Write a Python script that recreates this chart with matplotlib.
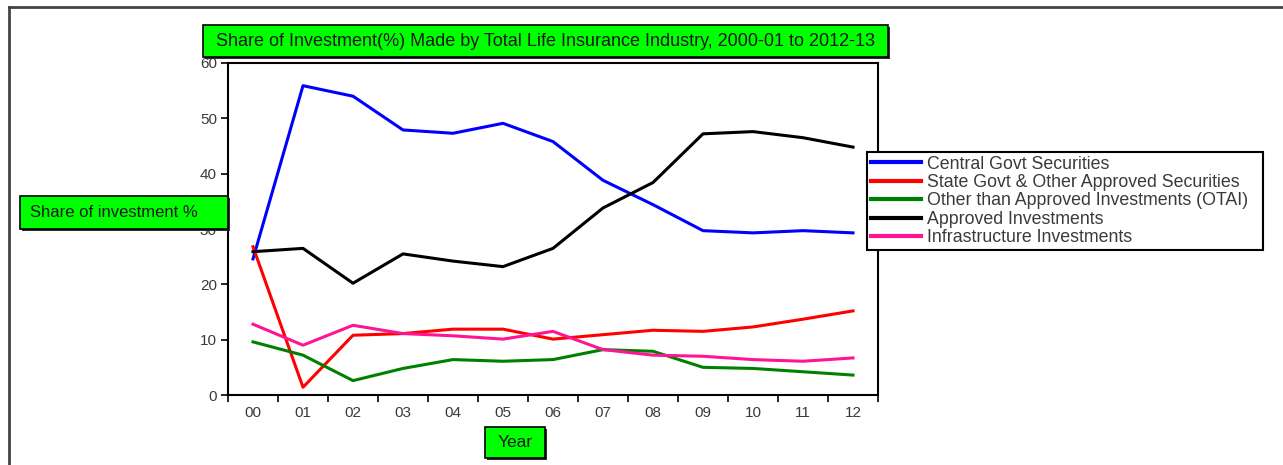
import matplotlib
matplotlib.use("Agg")
import matplotlib.pyplot as plt
from matplotlib.patches import Rectangle
from matplotlib.lines import Line2D

plt.rcParams['font.family'] = ['Liberation Sans', 'DejaVu Sans']

# Fiscal years 2000-01 ... 2012-13, labelled by the starting year
years = ["00", "01", "02", "03", "04", "05", "06", "07", "08", "09", "10", "11", "12"]

central_govt = [24.6, 55.9, 54.0, 47.9, 47.3, 49.1, 45.8, 38.8, 34.4, 29.7, 29.3, 29.7, 29.3]
state_govt = [26.8, 1.4, 10.8, 11.1, 11.9, 11.9, 10.1, 10.9, 11.7, 11.5, 12.3, 13.7, 15.2]
otai = [9.6, 7.2, 2.6, 4.8, 6.4, 6.1, 6.4, 8.2, 7.9, 5.0, 4.8, 4.2, 3.6]
approved = [25.9, 26.5, 20.2, 25.5, 24.2, 23.2, 26.5, 33.8, 38.4, 47.2, 47.6, 46.5, 44.8]
infrastructure = [12.8, 9.0, 12.6, 11.1, 10.7, 10.1, 11.5, 8.2, 7.2, 7.0, 6.4, 6.1, 6.7]

series_names = [
    "Central Govt Securities",
    "State Govt & Other Approved Securities",
    "Other than Approved Investments (OTAI)",
    "Approved Investments",
    "Infrastructure Investments",
]
series_values = [central_govt, state_govt, otai, approved, infrastructure]
series_colors = ["#0000ff", "#ff0000", "#008000", "#000000", "#ff1493"]

W, H = 1283, 465
fig = plt.figure(figsize=(W / 100, H / 100), dpi=100)


def fx(px):
    return px / W


def fy(py):
    return 1 - py / H


ax = fig.add_axes([fx(228), fy(395), fx(878) - fx(228), fy(63) - fy(395)])

x = list(range(len(years)))
handles = []
for name, vals, col in zip(series_names, series_values, series_colors):
    (ln,) = ax.plot(x, vals, color=col, lw=2.2, label=name, solid_joinstyle="round")
    handles.append(ln)

ax.set_xlim(-0.5, len(years) - 0.5)
ax.set_ylim(0, 60)
ax.set_yticks(range(0, 61, 10))
ax.set_xticks(x)
ax.set_xticklabels(years)
ax.set_xticks([i - 0.5 for i in range(len(years) + 1)], minor=True)
ax.tick_params(axis="x", which="major", length=0, pad=8, labelsize=11, labelcolor="#3a3a3a")
ax.tick_params(axis="x", which="minor", length=5, width=1.2, direction="out", color="black")
ax.tick_params(axis="y", which="major", length=5, width=1.2, direction="out", labelsize=11,
               labelcolor="#3a3a3a", pad=3)
for sp in ax.spines.values():
    sp.set_linewidth(1.5)
    sp.set_color("black")

# Outer frame (top and left edges)
fig.add_artist(Line2D([fx(9), 1], [fy(7), fy(7)], color="#444444", lw=2, transform=fig.transFigure))
fig.add_artist(Line2D([fx(9), fx(9)], [fy(7), 0], color="#444444", lw=2, transform=fig.transFigure))


def green_box(x0, y0, x1, y1):
    fig.add_artist(Rectangle((fx(x0) + 0.0015, fy(y1) - 0.004), fx(x1) - fx(x0), fy(y0) - fy(y1),
                             transform=fig.transFigure, facecolor="#303030", edgecolor="none",
                             zorder=4))
    fig.add_artist(Rectangle((fx(x0), fy(y1)), fx(x1) - fx(x0), fy(y0) - fy(y1),
                             transform=fig.transFigure, facecolor="#00ff00", edgecolor="black",
                             lw=1.2, zorder=5))


green_box(203, 25, 888, 57)
fig.text(fx(546), fy(41), "Share of Investment(%) Made by Total Life Insurance Industry, 2000-01 to 2012-13",
         ha="center", va="center", fontsize=13, color="#1a1a1a", zorder=6)

green_box(20, 196, 228, 229)
fig.text(fx(30), fy(212.5), "Share of investment %", ha="left", va="center", fontsize=12,
         color="#1a1a1a", zorder=6)

green_box(485, 427, 545, 458)
fig.text(fx(515), fy(442.5), "Year", ha="center", va="center", fontsize=12.5,
         color="#1a1a1a", zorder=6)

# Legend box spanning x = 867..1263 px
leg = fig.legend(handles=handles, labels=series_names, loc="upper left",
                 bbox_to_anchor=(fx(867), fy(250), fx(1263) - fx(867), fy(152) - fy(250)),
                 bbox_transform=fig.transFigure, mode="expand",
                 frameon=True, fancybox=False, edgecolor="black", framealpha=1,
                 fontsize=12.8, handlelength=2.85, handletextpad=0.3, labelspacing=0.08,
                 borderpad=0.2, borderaxespad=0, labelcolor="#3a3a3a")
leg.get_frame().set_linewidth(1.5)
for lh in leg.get_lines():
    lh.set_linewidth(3)

fig.savefig("out.png", dpi=100)
